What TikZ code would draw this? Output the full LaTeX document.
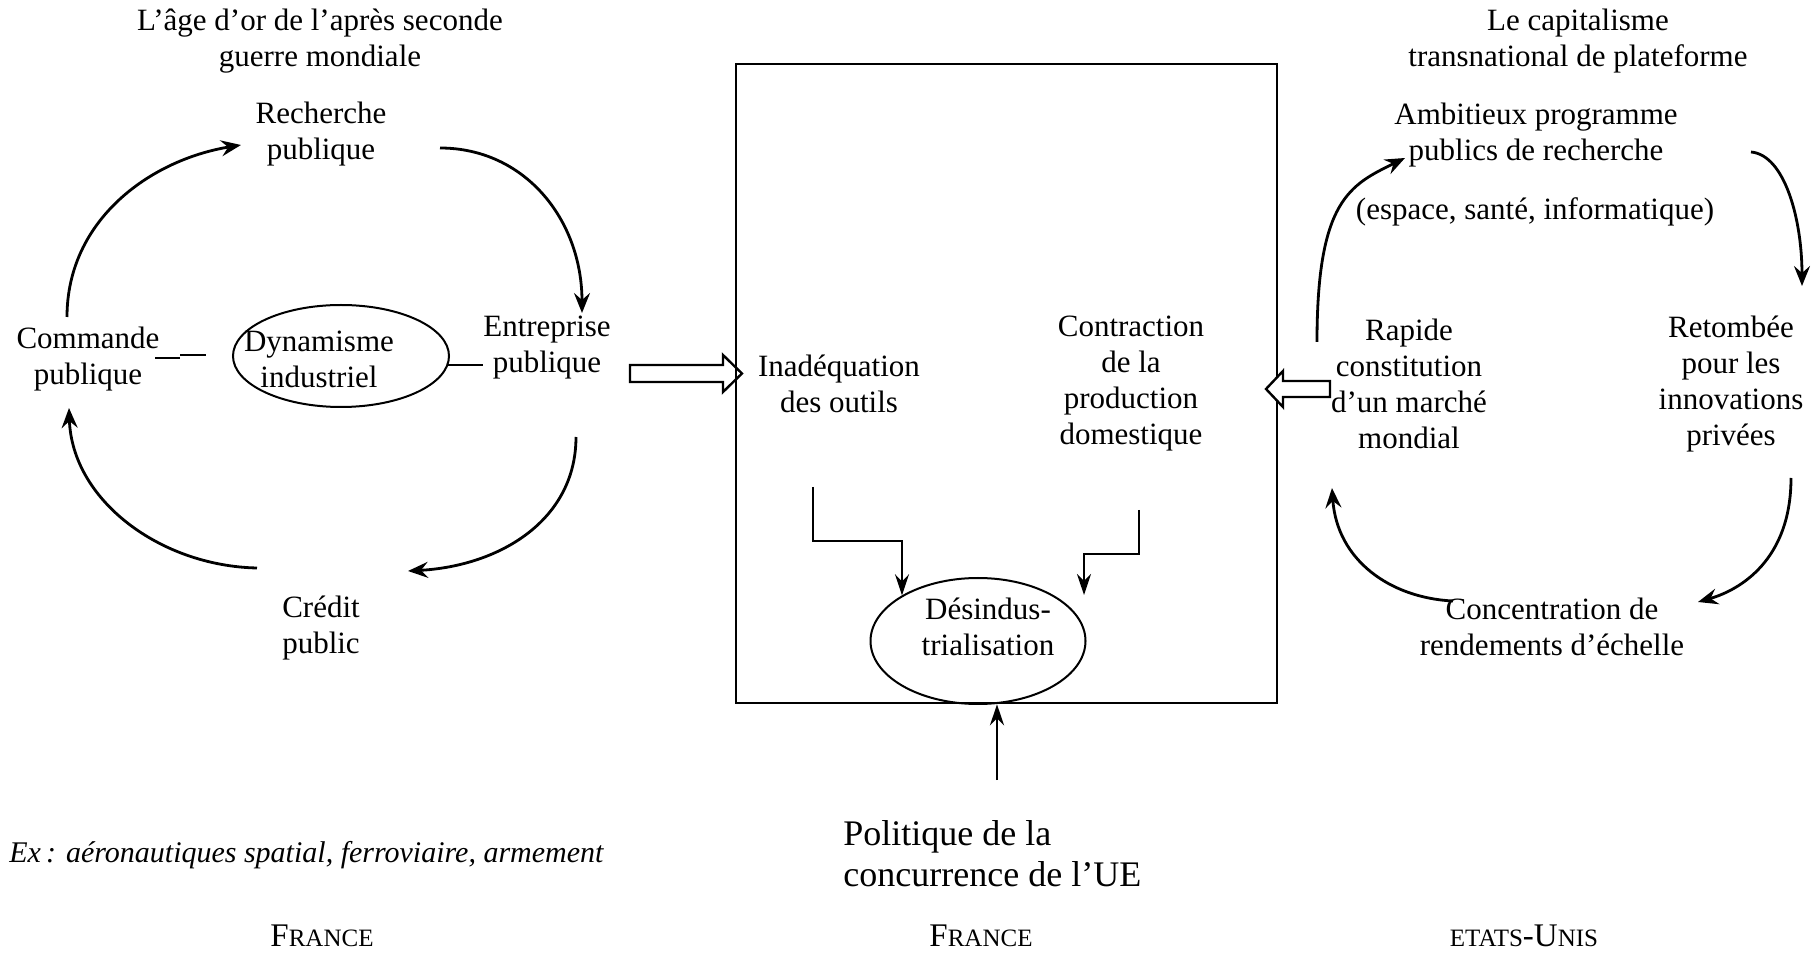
\documentclass[tikz,border=0pt]{standalone}
\usepackage{fontspec}
\setmainfont{Liberation Serif}
\usetikzlibrary{arrows.meta,shapes.geometric}
\newcommand\mytxt{\fontsize{15.5}{18}\selectfont}
\newcommand\mybig{\fontsize{18}{20.5}\selectfont}
\newcommand\scbig{\fontsize{16.5}{18}\selectfont}
\newcommand\scsmall{\fontsize{12.5}{14}\selectfont}
\begin{document}
\begin{tikzpicture}[x=0.5pt,y=0.5pt,
  txt/.style={font=\mytxt, align=center, inner sep=0pt},
  arr/.style={-{Stealth[length=10pt,width=8pt,inset=3.5pt]}, line width=1.4pt},
  elb/.style={-{Stealth[length=10.5pt,width=7pt,inset=3.5pt]}, line width=1.3pt},
  thin/.style={line width=0.9pt},
  hollow/.style={line width=1.2pt, fill=white, line join=miter},
  oval/.style={draw, ellipse, line width=1pt, inner sep=0pt}]
\useasboundingbox (0,0) rectangle (1816,-956);

% ---------- left cycle ----------
\node[txt] (tL) at (320,-41) {L’âge d’or de l’après seconde\\guerre mondiale};
\node[txt] (rech) at (321,-134) {Recherche\\publique};
\node[txt] (comm) at (88,-359) {Commande\\publique};
\node[txt] (entr) at (547,-348) {Entreprise\\publique};
\node[txt] (cred) at (321,-628) {Crédit\\public};
\node[oval, minimum width=108pt, minimum height=51pt] (dynE) at (341,-356) {};
\node[txt] (dyn) at (319,-359) {Dynamisme\\industriel};

\coordinate (u1) at (155,-358);
\coordinate (u2) at (180,-358);
\coordinate (u3) at (180,-355);
\coordinate (u4) at (206,-355);
\draw[thin] (u1) -- (u2);
\draw[thin] (u3) -- (u4);
\draw[thin] (dynE.-5) -- (dynE.-5 -| entr.west);

\coordinate (a1) at (67,-317);   \coordinate (a2) at (241,-145);
\coordinate (b1) at (440,-148);  \coordinate (b2) at (582,-313);
\coordinate (c1) at (576,-437);  \coordinate (c2) at (408,-571);
\coordinate (d1) at (257,-568);  \coordinate (d2) at (69,-408);
\draw[arr] (a1) .. controls (67,-220) and (150,-160) .. (a2);
\draw[arr] (b1) .. controls (525,-148) and (582,-220) .. (b2);
\draw[arr] (c1) .. controls (576,-520) and (500,-566) .. (c2);
\draw[arr] (d1) .. controls (160,-566) and (72,-500) .. (d2);

% ---------- hollow arrows ----------
\draw[hollow] (630,-365) -- (723,-365) -- (723,-355) -- (742,-373.5) -- (723,-392) -- (723,-382) -- (630,-382) -- cycle;

% ---------- central box ----------
\node[draw, line width=1.3pt, minimum width=270.5pt, minimum height=319.5pt, inner sep=0pt] (box) at (1006.5,-383.5) {};
\draw[hollow] (1330,-381) -- (1283,-381) -- (1283,-371) -- (1266,-389) -- (1283,-407) -- (1283,-397) -- (1330,-397) -- cycle;

\node[txt] (inad) at (839,-384) {Inadéquation\\des outils};
\node[txt] (contr) at (1131,-384) {Contraction\\de la\\production\\domestique};
\node[oval, minimum width=107.5pt, minimum height=63pt] (desE) at (978,-641) {};
\node[txt] (des) at (988,-627) {Désindus-\\trialisation};

\coordinate (e1) at (813,-487);
\coordinate (f1) at (1139,-510);
\coordinate (f2) at (1084,-595);
\draw[elb] (e1) -- (813,-541) -| (desE.149);
\draw[elb] (f1) -- (1139,-554) -| (f2);

\coordinate (p1) at (997,-780);
\draw[elb] (p1) -- (p1 |- box.south);
\node[font=\mybig, align=left, inner sep=0pt, anchor=west] (pol) at (843,-854) {Politique de la\\concurrence de l’UE};

% ---------- right cycle ----------
\node[txt] (tR) at (1578,-41) {Le capitalisme\\transnational de plateforme};
\node[txt] (amb) at (1536,-135) {Ambitieux programme\\publics de recherche};
\node[txt] (esp) at (1535,-212) {(espace, santé, informatique)};
\node[txt] (rap) at (1409,-384) {Rapide\\constitution\\d’un marché\\mondial};
\node[txt] (ret) at (1731,-384) {Retombée\\pour les\\innovations\\privées};
\node[txt] (conc) at (1552,-627) {Concentration de\\rendements d’échelle};

\coordinate (g1) at (1317,-342);  \coordinate (g2) at (1405,-158);
\coordinate (h1) at (1751,-152);  \coordinate (h2) at (1802,-286);
\coordinate (i1) at (1791,-478);  \coordinate (i2) at (1698,-602);
\coordinate (j1) at (1453,-601);  \coordinate (j2) at (1332,-488);
\draw[arr] (g1) .. controls (1317,-200) and (1350,-185) .. (g2);
\draw[arr] (h1) .. controls (1785,-155) and (1802,-220) .. (h2);
\draw[arr] (i1) .. controls (1791,-560) and (1740,-590) .. (i2);
\draw[arr] (j1) .. controls (1390,-598) and (1337,-560) .. (j2);

% ---------- bottom texts ----------
\node[font=\fontsize{15}{18}\selectfont\itshape, inner sep=0pt, anchor=west] (ex) at (9,-855) {Ex\,: aéronautiques spatial, ferroviaire, armement};
\node[inner sep=0pt] (fr1) at (322,-936) {{\scbig F}{\scsmall RANCE}};
\node[inner sep=0pt] (fr2) at (981,-936) {{\scbig F}{\scsmall RANCE}};
\node[inner sep=0pt] (us) at (1524,-936) {{\scsmall ETATS}{\scbig -U}{\scsmall NIS}};
\end{tikzpicture}
\end{document}
